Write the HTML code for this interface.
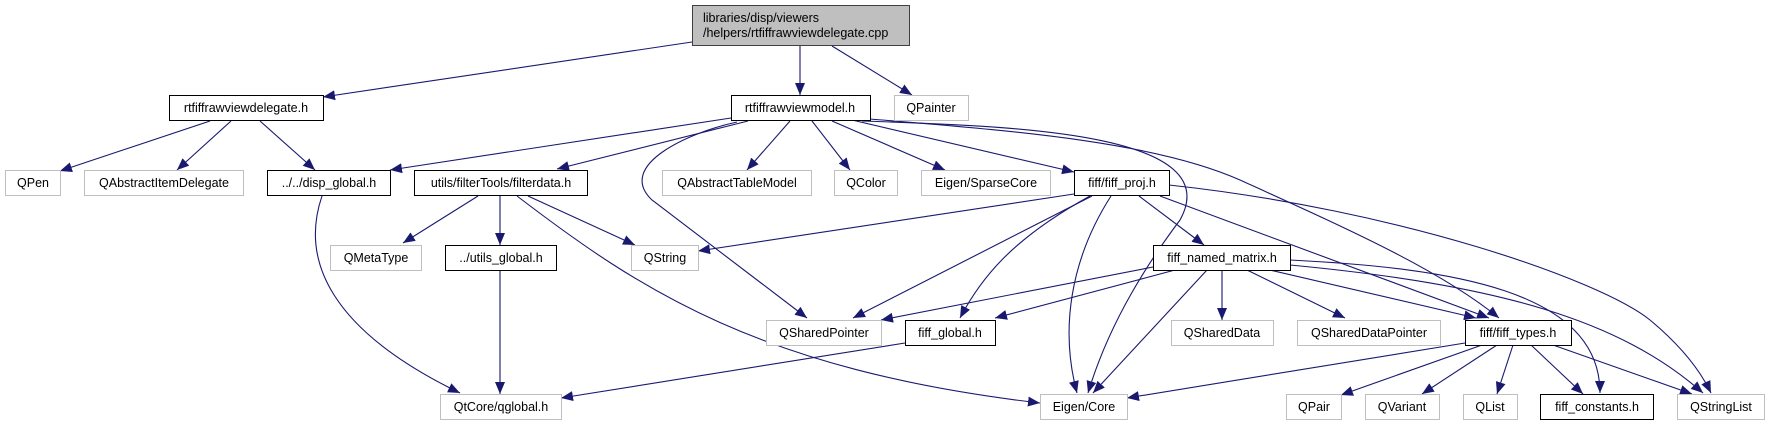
<!DOCTYPE html>
<html><head><meta charset="utf-8"><style>
html,body{margin:0;padding:0;background:#fff;}
svg{display:block;}
text{font-family:"Liberation Sans",sans-serif;font-size:12.5px;fill:#000;}
</style></head><body>
<svg width="1769" height="425" viewBox="0 0 1769 425" xmlns="http://www.w3.org/2000/svg">
<defs>
<marker id="a" markerUnits="userSpaceOnUse" markerWidth="13" markerHeight="10" refX="12" refY="5" orient="auto">
<path d="M0,0 L12,5 L0,10 Z" fill="#191970"/>
</marker>
</defs>
<g fill="none" stroke="#191970" stroke-width="1.1" marker-end="url(#a)">
<path d="M692 42 L323 97"/>
<path d="M800 46 L800 95"/>
<path d="M832 46 L912 95"/>
<path d="M210 121 L60 171"/>
<path d="M231 121 L177 170"/>
<path d="M260 121 L315 170"/>
<path d="M731 118 L390 170"/>
<path d="M748 121 L557 169"/>
<path d="M737 122 C690 132,615 165,652 200 L807 318"/>
<path d="M790 121 L747 170"/>
<path d="M812 121 L850 170"/>
<path d="M832 121 L945 170"/>
<path d="M852 120 L1074 172"/>
<path d="M862 121 C1000 126,1230 130,1180 220 C1150 260,1110 320,1088 393"/>
<path d="M870 119 C1000 130,1150 140,1240 180 C1350 230,1440 270,1499 318"/>
<path d="M1074 194 L698 251"/>
<path d="M1092 196 L853 318"/>
<path d="M1090 196 C1010 240,980 280,960 318"/>
<path d="M1111 196 C1070 260,1060 330,1077 393"/>
<path d="M1139 196 L1204 245"/>
<path d="M1160 196 L1489 318"/>
<path d="M1169 185 C1400 210,1600 280,1650 320 C1680 345,1700 370,1711 393"/>
<path d="M478 196 L403 243"/>
<path d="M500 196 L500 245"/>
<path d="M528 196 L635 245"/>
<path d="M517 196 C640 290,760 370,1040 403"/>
<path d="M322 196 C300 260,330 330,460 393"/>
<path d="M500 270 L500 394"/>
<path d="M905 343 L561 398"/>
<path d="M1153 267 L881 320"/>
<path d="M1175 270 L995 318"/>
<path d="M1207 270 L1093 393"/>
<path d="M1222 270 L1222 320"/>
<path d="M1247 270 L1345 318"/>
<path d="M1270 270 L1476 318"/>
<path d="M1290 260 C1450 268,1600 290,1600 393"/>
<path d="M1290 265 C1500 285,1620 320,1703 393"/>
<path d="M1465 343 L1127 398"/>
<path d="M1482 345 L1341 395"/>
<path d="M1497 345 L1422 394"/>
<path d="M1513 345 L1497 394"/>
<path d="M1531 345 L1583 394"/>
<path d="M1553 345 L1692 394"/>
</g>
<g stroke-width="1">
<rect x="692.5" y="5.5" width="217" height="40" fill="#bfbfbf" stroke="#404040"/>
<rect x="169.5" y="95.5" width="154" height="25" fill="#fff" stroke="#000"/>
<rect x="731.5" y="95.5" width="139" height="25" fill="#fff" stroke="#000"/>
<rect x="267.5" y="170.5" width="123" height="25" fill="#fff" stroke="#000"/>
<rect x="414.5" y="170.5" width="173" height="25" fill="#fff" stroke="#000"/>
<rect x="1074.5" y="170.5" width="95" height="25" fill="#fff" stroke="#000"/>
<rect x="445.5" y="245.5" width="111" height="25" fill="#fff" stroke="#000"/>
<rect x="1153.5" y="245.5" width="137" height="25" fill="#fff" stroke="#000"/>
<rect x="905.5" y="320.5" width="90" height="25" fill="#fff" stroke="#000"/>
<rect x="1465.5" y="320.5" width="106" height="25" fill="#fff" stroke="#000"/>
<rect x="1540.5" y="394.5" width="113" height="25" fill="#fff" stroke="#000"/>
<g fill="#fff" stroke="#bfbfbf">
<rect x="894.5" y="95.5" width="74" height="25"/>
<rect x="5.5" y="170.5" width="55" height="25"/>
<rect x="84.5" y="170.5" width="159" height="25"/>
<rect x="662.5" y="170.5" width="149" height="25"/>
<rect x="834.5" y="170.5" width="63" height="25"/>
<rect x="921.5" y="170.5" width="129" height="25"/>
<rect x="330.5" y="245.5" width="91" height="25"/>
<rect x="631.5" y="245.5" width="67" height="25"/>
<rect x="766.5" y="320.5" width="115" height="25"/>
<rect x="1171.5" y="320.5" width="102" height="25"/>
<rect x="1297.5" y="320.5" width="143" height="25"/>
<rect x="440.5" y="394.5" width="121" height="25"/>
<rect x="1040.5" y="394.5" width="87" height="25"/>
<rect x="1286.5" y="394.5" width="55" height="25"/>
<rect x="1365.5" y="394.5" width="74" height="25"/>
<rect x="1463.5" y="394.5" width="54" height="25"/>
<rect x="1677.5" y="394.5" width="87" height="25"/>
</g>
</g>
<text x="703" y="22">libraries/disp/viewers</text>
<text x="703" y="37">/helpers/rtfiffrawviewdelegate.cpp</text>
<g text-anchor="middle">
<text x="246" y="112">rtfiffrawviewdelegate.h</text>
<text x="800" y="112">rtfiffrawviewmodel.h</text>
<text x="931" y="112">QPainter</text>
<text x="33" y="187">QPen</text>
<text x="164" y="187">QAbstractItemDelegate</text>
<text x="329" y="187">../../disp_global.h</text>
<text x="501" y="187">utils/filterTools/filterdata.h</text>
<text x="737" y="187">QAbstractTableModel</text>
<text x="866" y="187">QColor</text>
<text x="986" y="187">Eigen/SparseCore</text>
<text x="1122" y="187">fiff/fiff_proj.h</text>
<text x="376" y="262">QMetaType</text>
<text x="501" y="262">../utils_global.h</text>
<text x="665" y="262">QString</text>
<text x="1222" y="262">fiff_named_matrix.h</text>
<text x="824" y="337">QSharedPointer</text>
<text x="950" y="337">fiff_global.h</text>
<text x="1222" y="337">QSharedData</text>
<text x="1369" y="337">QSharedDataPointer</text>
<text x="1518" y="337">fiff/fiff_types.h</text>
<text x="501" y="411">QtCore/qglobal.h</text>
<text x="1084" y="411">Eigen/Core</text>
<text x="1314" y="411">QPair</text>
<text x="1402" y="411">QVariant</text>
<text x="1490" y="411">QList</text>
<text x="1597" y="411">fiff_constants.h</text>
<text x="1721" y="411">QStringList</text>
</g>
</svg>
</body></html>
